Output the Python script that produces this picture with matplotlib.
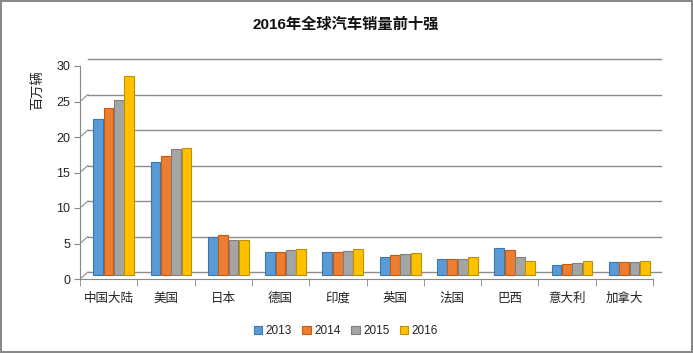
import matplotlib
matplotlib.use("Agg")
import matplotlib.pyplot as plt
import matplotlib.transforms as mtransforms
import numpy as np

plt.rcParams['font.family'] = ['Liberation Sans', 'Noto Sans CJK SC', 'DejaVu Sans']

categories = ["中国大陆", "美国", "日本", "德国", "印度", "英国", "法国", "巴西", "意大利", "加拿大"]
years = ["2013", "2014", "2015", "2016"]
v2013 = [22.0, 15.9, 5.4, 3.2, 3.2, 2.6, 2.2, 3.8, 1.4, 1.8]
v2014 = [23.5, 16.8, 5.6, 3.3, 3.2, 2.8, 2.2, 3.5, 1.5, 1.9]
v2015 = [24.6, 17.8, 5.0, 3.5, 3.4, 3.0, 2.3, 2.6, 1.7, 1.9]
v2016 = [28.0, 17.9, 5.0, 3.7, 3.7, 3.1, 2.5, 2.0, 2.0, 2.0]
series = [v2013, v2014, v2015, v2016]
colors = ["#5B9BD5", "#ED7D31", "#A5A5A5", "#FFC000"]
edges = ["#3A78B5", "#C55A11", "#7F7F7F", "#BF9000"]

fig = plt.figure(figsize=(6.93, 3.53), dpi=100)
fig.patch.set_edgecolor("#888888")
fig.patch.set_linewidth(1.5)
ax = fig.add_axes([80/693, 1-279/353, (653-80)/693, (279-66)/353])

n = len(categories)
x = np.arange(n)
w = 0.18
bar_off = mtransforms.ScaledTranslation(1/100, 4/100, fig.dpi_scale_trans)
for i, (vals, c, e) in enumerate(zip(series, colors, edges)):
    bars = ax.bar(x + (i - 1.5) * w + 0.07, vals, width=w * 0.95, color=c, edgecolor=e,
                  linewidth=0.8, label=years[i], zorder=3)
    for b in bars:
        b.set_transform(ax.transData + bar_off)

ax.set_xlim(-0.5, n - 0.5)
ax.set_ylim(0, 30)
ax.set_yticks([0, 5, 10, 15, 20, 25, 30])
ax.set_xticks(x)
ax.set_xticklabels(categories)
ax.set_xticks(np.arange(-0.5, n, 1.0), minor=True)
ax.tick_params(axis='x', which='major', length=0, pad=10, labelsize=9, colors="#222222")
ax.tick_params(axis='x', which='minor', length=5, color="#888888")
ax.tick_params(axis='y', length=4, color="#888888", labelsize=9, labelcolor="#222222", pad=3)

for s in ["top", "right"]:
    ax.spines[s].set_visible(False)
ax.spines["left"].set_color("#888888")
ax.spines["bottom"].set_color("#888888")

# back-wall gridlines offset for pseudo-3D look
off = mtransforms.ScaledTranslation(8/100, 7/100, fig.dpi_scale_trans)
tr = ax.get_yaxis_transform() + off
tr0 = ax.get_yaxis_transform()
for v in [0, 5, 10, 15, 20, 25, 30]:
    ax.plot([0, 1], [v, v], transform=tr, color="#8C8C8C", lw=1.0, zorder=1, clip_on=False)
    p0 = tr0.transform((0, v))
    p1 = tr.transform((0, v))
    ax.plot([p0[0], p1[0]], [p0[1], p1[1]], transform=None, color="#8C8C8C", lw=0.8, zorder=1)
p0 = tr0.transform((1, 0)); p1 = tr.transform((1, 0))
ax.plot([p0[0], p1[0]], [p0[1], p1[1]], transform=None, color="#8C8C8C", lw=0.8, zorder=1)

fig.text(346/693, 1-25/353, "2016年全球汽车销量前十强", ha="center", va="center",
         fontsize=11, fontweight="bold", color="#111111")
fig.text(38/693, 1-90/353, "百万辆", ha="center", va="center", rotation=90,
         fontsize=9.5, color="#222222")

leg = fig.legend(loc="center", bbox_to_anchor=(346/693, 1-331/353), ncol=4, frameon=False,
                 fontsize=8.5, handlelength=0.7, handleheight=0.7, handletextpad=0.3,
                 columnspacing=0.9)
for t in leg.get_texts():
    t.set_color("#222222")

fig.savefig("out.png", dpi=100)
